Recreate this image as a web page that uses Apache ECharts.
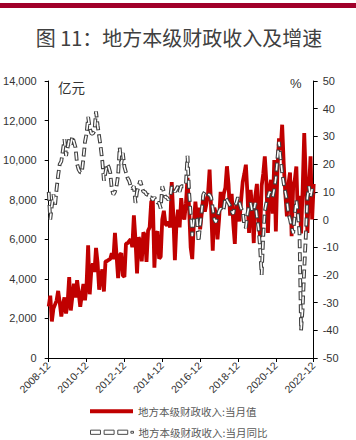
<!DOCTYPE html>
<html><head><meta charset="utf-8">
<script src="https://cdn.jsdelivr.net/npm/echarts@6/dist/echarts.min.js"></script>
<style>html,body{margin:0;padding:0;background:#fff}#c{width:356px;height:440px}</style>
</head><body><div id="c"></div>
<script>
// Categories: monthly from 2008-12 to 2022-12
const startYear = 2008, startMonth = 12, monthCount = 169;
const months = [];
for (let k = 0; k < monthCount; k++) {
  const m0 = startMonth - 1 + k;
  const y = startYear + Math.floor(m0 / 12);
  const m = (m0 % 12) + 1;
  months.push(y + '-' + (m < 10 ? '0' + m : '' + m));
}

// 地方本级财政收入:当月值 (亿元)
const monthlyValue = [
  2600, 3150, 1850, 2500, 2700, 2900, 3390, 2800, 2100, 2700,
  3060, 2250, 2800, 4090, 2400, 3100, 3760, 3050, 3930, 3300,
  2590, 3200, 3740, 2920, 3700, 5690, 3220, 4400, 4780, 4350,
  5560, 4800, 3450, 4100, 4480, 3360, 4880, 4900, 4960, 5000,
  5300, 5000, 6320, 5200, 4040, 5200, 5300, 4180, 4100, 5780,
  5800, 5900, 6000, 5600, 7210, 6000, 4270, 6100, 5900, 4880,
  6350, 6200, 4860, 6440, 6600, 7900, 8020, 4560, 6270, 6400,
  5020, 5120, 7000, 7440, 6780, 6700, 6900, 6600, 8890, 7200,
  4950, 6800, 7500, 6600, 8080, 7300, 7000, 7800, 9100, 7600,
  5600, 5000, 6800, 7900, 7000, 7600, 6500, 7300, 8200, 7400,
  7800, 8300, 9520, 7500, 5430, 7600, 7300, 6000, 7000, 8400,
  7600, 8300, 8600, 9690, 8800, 7200, 8300, 6800, 5770, 7800,
  7900, 6900, 8000, 8900, 9300, 9770, 8300, 6320, 8500, 7600,
  5810, 8200, 8800, 7000, 6100, 8700, 9300, 10190, 8900, 6320,
  8600, 9000, 7300, 10000, 6400, 9500, 11100, 10500, 11790, 9800,
  8300, 7160, 8800, 9370, 6160, 8700, 9000, 9680, 7000, 8200,
  6300, 8500, 11370, 9000, 6320, 8500, 10190, 7000, 8800
];

// 地方本级财政收入:当月同比 (%)
const monthlyYoY = [
  10, 0, 5, 9, 5, 11, 16, 20, 21, 25,
  29, 23, 26, 29, 27, 30, 28, 26, 20, 18,
  17, 17, 22, 28, 31, 37, 33, 31, 31, 32,
  39, 34, 30, 26, 21, 14, 17, 20, 19, 17,
  11, 9, 10, 12, 16, 26, 20, 24, 19, 17,
  15, 14, 12, 11, 12, 6, 10, 12, 14, 12,
  10, 10, 9, 9, 8, 8, 7, 8, 7, 6,
  6, 4, 12, 10, 8, 8, 7, 8, 12, 11,
  10, 11, 12, 10, 12, 12, 12, 13, 23, 10,
  2, -6, 0, 1, 0, -8, -2, 3, 9, 10,
  10, 9, 9, 8, 4, 0, -1, 1, 3, 4,
  3, 4, 8, 7, 6, 5, 3, 2, 5, 6,
  8, 6, 4, 3, -2, -3, 2, 5, 6, 3,
  3, 6, 1, -3, -10, -20, -6, 3, 6, 8,
  10, 9, 8, 11, 15, 22, 28, 22, 17, 13,
  10, 7, 2, 0, -3, -5, 2, 7, 2, -5,
  -40, -32, -18, -6, 8, 12, 8, 11, 9
];

const seriesNames = ['地方本级财政收入:当月值', '地方本级财政收入:当月同比'];
const titleText = '图 11：地方本级财政收入及增速';
const leftUnit = '亿元';
const rightUnit = '%';

const font = '"Liberation Sans","Noto Sans CJK SC",sans-serif';
const cjk = '"Noto Sans CJK SC","Liberation Sans",sans-serif';
const chart = echarts.init(document.getElementById('c'), null, {renderer: 'svg'});

const legendCommon = {
  orient: 'horizontal', left: 90, itemWidth: 43, itemHeight: 12, itemGap: 9, padding: 0,
  textStyle: {fontSize: 10.5, color: '#595959', fontFamily: cjk}
};

chart.setOption({
  animation: false,
  backgroundColor: '#fff',
  textStyle: {fontFamily: font},
  graphic: [
    {type: 'rect', x: 0, y: 3, shape: {width: 356, height: 5}, style: {fill: '#a1002a'}},
    {type: 'text', x: 179, y: 37, style: {text: titleText, align: 'center', verticalAlign: 'middle',
      fontSize: 20, fontFamily: cjk, fill: '#404040'}},
    {type: 'text', x: 58, y: 87, style: {text: leftUnit, verticalAlign: 'middle',
      fontSize: 13.5, fontFamily: cjk, fill: '#333'}},
    {type: 'text', x: 290, y: 83, style: {text: rightUnit, verticalAlign: 'middle',
      fontSize: 13, fontFamily: font, fill: '#333'}}
  ],
  grid: {left: 48.7, right: 42.3, top: 81, bottom: 82},
  legend: [
    Object.assign({}, legendCommon, {top: 406, data: [
      {name: seriesNames[0], icon: 'path://M0,0H43V4H0Z', itemStyle: {color: '#c00000'}}
    ]}),
    Object.assign({}, legendCommon, {top: 427, data: [
      {name: seriesNames[1], icon: 'path://M0,0H9.5V4H0Z M13,0H22.5V4H13Z M26,0H35.5V4H26Z M38.5,1.1H41V2.9H38.5Z',
        itemStyle: {color: '#ffffff', borderColor: '#4a4a4a', borderWidth: 1}}
    ]})
  ],
  xAxis: {
    type: 'category', data: months, boundaryGap: false,
    axisLine: {lineStyle: {color: '#000', width: 1}},
    axisTick: {interval: 23, length: 4, lineStyle: {color: '#000'}},
    axisLabel: {interval: 23, rotate: 45, fontSize: 10.5, color: '#333', margin: 6, fontFamily: font},
    splitLine: {show: false}
  },
  yAxis: [
    {
      type: 'value', min: 0, max: 14000, interval: 2000, position: 'left',
      axisLine: {show: true, lineStyle: {color: '#000', width: 1}},
      axisTick: {show: true, length: 4, lineStyle: {color: '#000'}},
      axisLabel: {fontSize: 11, color: '#333', margin: 12, fontFamily: font,
        formatter: v => v.toString().replace(/\B(?=(\d{3})+(?!\d))/g, ',')},
      splitLine: {show: false}
    },
    {
      type: 'value', min: -50, max: 50, interval: 10, position: 'right',
      axisLine: {show: true, lineStyle: {color: '#000', width: 1}},
      axisTick: {show: true, length: 4, lineStyle: {color: '#000'}},
      axisLabel: {fontSize: 11, color: '#333', margin: 9, fontFamily: font},
      splitLine: {show: false}
    }
  ],
  series: [
    {name: seriesNames[0], type: 'line', yAxisIndex: 0, data: monthlyValue, symbol: 'none',
      lineStyle: {color: '#c00000', width: 3.8}, itemStyle: {color: '#c00000'}, z: 2},
    {name: seriesNames[1], type: 'line', yAxisIndex: 1, data: monthlyYoY, symbol: 'none',
      lineStyle: {color: '#404040', width: 3.8, type: [9, 4]}, itemStyle: {color: '#404040'}, z: 3},
    {name: 'yoyInner', type: 'line', yAxisIndex: 1, data: monthlyYoY, symbol: 'none', silent: true,
      lineStyle: {color: '#ffffff', width: 1.6, type: [7, 6], dashOffset: 12}, itemStyle: {color: '#fff'}, z: 4}
  ]
});
</script>
</body></html>
